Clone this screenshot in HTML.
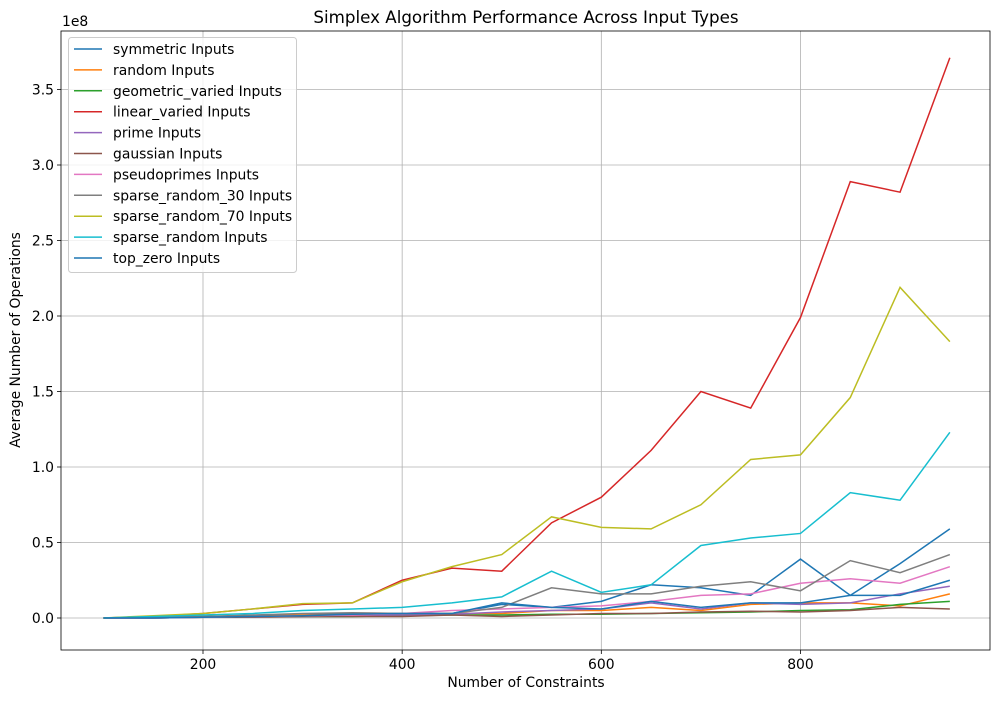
<!DOCTYPE html>
<html><head><meta charset="utf-8"><style>
body{margin:0;background:#fff;}
svg text{font-family:"DejaVu Sans","Liberation Sans",sans-serif;fill:#000;}
</style></head><body>
<svg id="chart" width="1001" height="699" xmlns="http://www.w3.org/2000/svg">
<rect width="1001" height="699" fill="#fff"/>
<g id="grid"></g><g id="series"></g><g id="axes"></g><g id="legend"></g>
</svg>
<script>
const xValues=[100,150,200,250,300,350,400,450,500,550,600,650,700,750,800,850,900,950];
const seriesNames=["symmetric Inputs","random Inputs","geometric_varied Inputs","linear_varied Inputs","prime Inputs","gaussian Inputs","pseudoprimes Inputs","sparse_random_30 Inputs","sparse_random_70 Inputs","sparse_random Inputs","top_zero Inputs"];
const seriesColors=["#1f77b4","#ff7f0e","#2ca02c","#d62728","#9467bd","#8c564b","#e377c2","#7f7f7f","#bcbd22","#17becf","#1f77b4"];
// values in millions
const symmetricVals=[0,0.5,1,1.5,2,3,3,3,9,7,11,22,20,15,39,15,36,59];
const randomVals=[0,0.5,1,1.5,2,2,2.5,3,3,5,5,7,5,9,10,10,8,16];
const geometricVals=[0,0,0.5,1,1,1,1.5,2,2,2.5,2.5,3,3.5,4,5,5.5,9,11];
const linearVals=[0,1,3,6,9,10,25,33,31,63,80,111,150,139,199,289,282,371];
const primeVals=[0,0,0.5,1,1,1.5,2,2.5,4,5,6,10,6,10,9,10,16,21];
const gaussianVals=[0,0,0.5,0.5,1,1,1,2,1,2,3,3,4,4.5,4,5,7,6];
const pseudoVals=[0,0,0.5,1,1.5,2,3,5,6,7,8,11,15,16,23,26,23,34];
const sparse30Vals=[0,0.5,1,2,3,3.5,3,3,7,20,16,16,21,24,18,38,30,42];
const sparse70Vals=[0,1.5,3,6,9.5,10,24,34,42,67,60,59,75,105,108,146,219,183];
const sparseVals=[0,1,2,3,5,6,7,10,14,31,17,22,48,53,56,83,78,123];
const topZeroVals=[0,0,0.5,1,1.5,2.5,3,3,10,7,6,11,7,10,10,15,15,25];
const allSeries=[symmetricVals,randomVals,geometricVals,linearVals,primeVals,gaussianVals,pseudoVals,sparse30Vals,sparse70Vals,sparseVals,topZeroVals];
const xTicks=[200,400,600,800];
const yTicks=[0,0.5,1.0,1.5,2.0,2.5,3.0,3.5];

const L=61,R=990,T=31,B=650;
const xs=v=>203+(v-200)*0.9958;
const ys=m=>618-m/100*151; // m in millions
const NS="http://www.w3.org/2000/svg";
function mk(tag,attrs,parent){const e=document.createElementNS(NS,tag);for(const k in attrs)e.setAttribute(k,attrs[k]);parent.appendChild(e);return e;}
const grid=document.getElementById('grid'),ser=document.getElementById('series'),ax=document.getElementById('axes'),leg=document.getElementById('legend');

xTicks.forEach(t=>{
 const g=mk('line',{x1:xs(t),x2:xs(t),y1:T,y2:B,stroke:'#b0b0b0','stroke-width':0.8},grid);
 
 
 mk('line',{x1:xs(t),x2:xs(t),y1:B,y2:B+4,stroke:'#000','stroke-width':0.8},ax);
 const tx=mk('text',{x:xs(t),y:B+19,'font-size':13.9,'text-anchor':'middle'},ax);tx.textContent=t;
 
 
});
yTicks.forEach(t=>{
 const y=ys(t*100);
 const g=mk('line',{x1:L,x2:R,y1:y,y2:y,stroke:'#b0b0b0','stroke-width':0.8},grid);
 
 
 mk('line',{x1:L-4,x2:L,y1:y,y2:y,stroke:'#000','stroke-width':0.8},ax);
 const tx=mk('text',{x:L-7,y:y+5,'font-size':13.9,'text-anchor':'end'},ax);tx.textContent=t.toFixed(1);
 
 
});
allSeries.forEach((vals,i)=>{
 const p=mk('polyline',{points:vals.map((v,j)=>xs(xValues[j])+','+ys(v)).join(' '),fill:'none',stroke:seriesColors[i],'stroke-width':1.5},ser);
 
 
});
const frame=mk('rect',{x:L,y:T,width:R-L,height:B-T,fill:'none',stroke:'#000','stroke-width':0.8},ax);


function txt(s,attrs,name){const t=mk('text',attrs,ax);t.textContent=s;return t;}
txt('Simplex Algorithm Performance Across Input Types',{x:526,y:23,'font-size':16.7,'text-anchor':'middle'},'chart-title');
txt('1e8',{x:62,y:26,'font-size':13.9},'y-scale-label');
txt('Number of Constraints',{x:526,y:687,'font-size':13.9,'text-anchor':'middle'},'x-axis-title');
txt('Average Number of Operations',{x:20,y:340,'font-size':13.9,'text-anchor':'middle',transform:'rotate(-90 20 340)'},'y-axis-title');

const box=mk('rect',{x:68.5,y:37.5,width:228,height:235,fill:'#fff','fill-opacity':0.8,stroke:'#ccc',rx:3},leg);


seriesNames.forEach((n,i)=>{
 const y=49+i*20.9;
 const g=mk('g',{},leg);
 
 
 mk('line',{x1:74,x2:102,y1:y,y2:y,stroke:seriesColors[i],'stroke-width':1.5},g);
 const t=mk('text',{x:113,y:y+5,'font-size':13.9},g);t.textContent=n;
});
</script>
</body></html>
